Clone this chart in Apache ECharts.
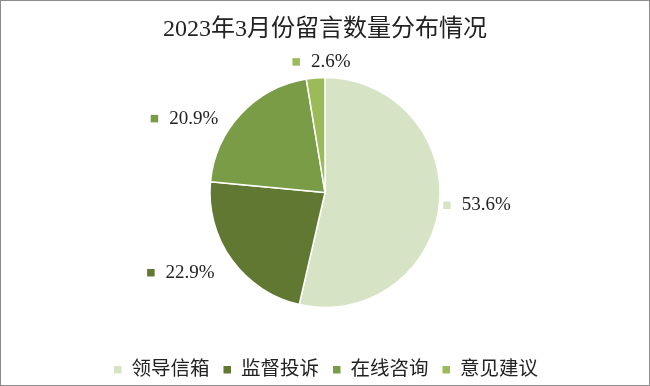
<!DOCTYPE html>
<html><head><meta charset="utf-8">
<script src="https://cdn.jsdelivr.net/npm/echarts@6/dist/echarts.min.js"></script>
<style>html,body{margin:0;padding:0;background:#fff}#c{width:650px;height:386px;box-sizing:border-box;border:1px solid #8c8c8c}</style>
</head><body><div id="c"></div>
<script>
const categories = ['领导信箱','监督投诉','在线咨询','意见建议'];
const values = [53.6, 22.9, 20.9, 2.6];
const colors = ['#d7e3c5','#617832','#7a9c46','#9bbb59'];
const titleText = '2023年3月份留言数量分布情况';
const FONT = '"Liberation Serif","Noto Sans CJK SC",serif';

// label placement style (pixel nudges applied after the radial layout)
const labelNudge = [[-1,-3],[-13,0],[-19,18],[11,-1]];
const CX = 324, CY = 191.5, R = 115;
const total = values.reduce((a,b)=>a+b,0);
const cum = []; values.reduce((a,v,i)=>{cum[i]=a; return a+v;},0);
const clamp = v => Math.max(-1, Math.min(1, v));

const chart = echarts.init(document.getElementById('c'), null, {renderer:'canvas'});
const rich = {};
colors.forEach((c,i)=>{ rich['s'+i] = {width:7.5,height:7.5,backgroundColor:c}; });
rich.t = {fontFamily:FONT,fontSize:19,color:'#222',padding:[0,0,0,11]};
chart.setOption({
  animation:false,
  color: colors,
  title:{text:titleText,left:'center',top:12,textStyle:{fontFamily:FONT,fontSize:24,fontWeight:'normal',color:'#222'}},
  legend:{top:354,left:'center',icon:'rect',itemWidth:9.5,itemHeight:9.5,itemGap:12,
    textStyle:{fontFamily:FONT,fontSize:19.5,color:'#222',padding:[0,0,0,4]},data:categories},
  series:[{
    type:'pie',
    center:[CX,CY],
    radius:[0,R],
    startAngle:90,
    clockwise:true,
    itemStyle:{borderColor:'#fff',borderWidth:1.5},
    label:{show:true,position:'outside',
      formatter:p=>'{s'+p.dataIndex+'|}{t|'+p.value.toFixed(1)+'%}',rich:rich},
    labelLine:{show:false},
    labelLayout:function(p){
      const i = p.dataIndex;
      const th = (cum[i] + values[i]/2)/total*2*Math.PI;
      const dx = Math.sin(th), dy = -Math.cos(th);
      const hw = p.labelRect.width/2, hh = 10, d = R + 5;
      return {
        x: CX + dx*d + clamp(2*dx)*hw + labelNudge[i][0],
        y: CY + dy*d + clamp(2*dy)*hh + labelNudge[i][1],
        align:'center', verticalAlign:'middle'
      };
    },
    data:categories.map((n,i)=>({name:n,value:values[i]}))
  }]
});
</script></body></html>
